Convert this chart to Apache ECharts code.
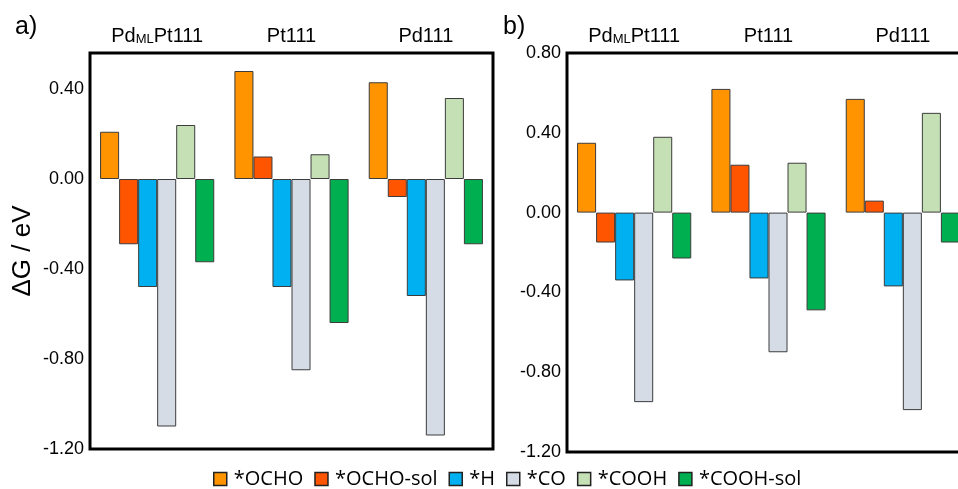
<!DOCTYPE html>
<html>
<head>
<meta charset="utf-8">
<script src="https://cdn.jsdelivr.net/npm/echarts@6/dist/echarts.min.js"></script>
<style>
  html, body { margin: 0; background: #fff; }
  #chart { width: 958px; height: 489px; }
</style>
</head>
<body>
<div id="chart"></div>
<script>
  var categories = ['PdMLPt111', 'Pt111', 'Pd111'];
  var seriesNames = ['*OCHO', '*OCHO-sol', '*H', '*CO', '*COOH', '*COOH-sol'];
  var yTicks = [-1.2, -0.8, -0.4, 0, 0.4, 0.8];

  // panel a)
  var ochoA = [0.21, 0.48, 0.43];
  var ochoSolA = [-0.29, 0.10, -0.08];
  var hA = [-0.48, -0.48, -0.52];
  var coA = [-1.10, -0.85, -1.14];
  var coohA = [0.24, 0.11, 0.36];
  var coohSolA = [-0.37, -0.64, -0.29];

  // panel b)
  var ochoB = [0.35, 0.62, 0.57];
  var ochoSolB = [-0.15, 0.24, 0.06];
  var hB = [-0.34, -0.33, -0.37];
  var coB = [-0.95, -0.70, -0.99];
  var coohB = [0.38, 0.25, 0.50];
  var coohSolB = [-0.23, -0.49, -0.15];

  var colors = ['#ff9300', '#ff5500', '#00b0f0', '#d6dce5', '#c5e0b4', '#00b050'];
  var panels = [
    [ochoA, ochoSolA, hA, coA, coohA, coohSolA],
    [ochoB, ochoSolB, hB, coB, coohB, coohSolB]
  ];

  var labelFont = 'Liberation Sans';

  function catLabel(value) {
    return '{n|' + value.replace('ML', '}{sub|ML}{n|') + '}';
  }

  function xAxis(idx) {
    return {
      type: 'category',
      gridIndex: idx,
      position: 'top',
      data: categories,
      axisLine: { show: false },
      axisTick: { show: false },
      axisLabel: {
        interval: 0,
        margin: 7,
        formatter: catLabel,
        rich: {
          n: { fontFamily: labelFont, fontSize: 20, lineHeight: 22, color: '#000', verticalAlign: 'bottom' },
          sub: { fontFamily: labelFont, fontSize: 13, lineHeight: 15, color: '#000', verticalAlign: 'bottom' }
        }
      }
    };
  }

  function yAxis(idx, max) {
    return {
      type: 'value',
      gridIndex: idx,
      min: yTicks[0],
      max: max,
      interval: 0.4,
      axisLine: { show: false },
      axisTick: { show: false },
      splitLine: { show: false },
      axisLabel: {
        margin: 6,
        showMaxLabel: max === yTicks[yTicks.length - 1],
        fontFamily: labelFont,
        fontSize: 18,
        color: '#000',
        formatter: function(v) { return v.toFixed(2); }
      }
    };
  }

  var series = [];
  panels.forEach(function(panel, p) {
    panel.forEach(function(values, k) {
      series.push({
        type: 'bar',
        name: seriesNames[k],
        xAxisIndex: p,
        yAxisIndex: p,
        data: values,
        barGap: '0%',
        barCategoryGap: '15%',
        itemStyle: { color: colors[k], borderColor: '#3c3c3c', borderWidth: 1 }
      });
    });
  });

  var yA = yAxis(0, 0.56);
  yA.name = 'ΔG / eV';
  yA.nameLocation = 'middle';
  yA.nameGap = 54;
  yA.nameTextStyle = { fontFamily: labelFont, fontSize: 26, color: '#000' };

  var option = {
    animation: false,
    backgroundColor: '#fff',
    graphic: [
      { type: 'text', left: 15, top: 15, style: { text: 'a)', font: '25px "Liberation Sans"', fill: '#000' } },
      { type: 'text', left: 503, top: 15, style: { text: 'b)', font: '25px "Liberation Sans"', fill: '#000' } }
    ],
    legend: {
      data: seriesNames,
      left: 213,
      top: 469,
      padding: 0,
      icon: 'rect',
      itemWidth: 13,
      itemHeight: 13,
      itemGap: 11,
      itemStyle: { borderColor: '#222', borderWidth: 1.5 },
      textStyle: { fontFamily: 'Open Sans', fontSize: 20, color: '#000', padding: [0, 0, 0, 2] }
    },
    grid: [
      { left: 90, width: 403, top: 53, bottom: 40, outerBoundsMode: 'none', show: true, borderColor: '#000', borderWidth: 3 },
      { left: 567, width: 403, top: 53, bottom: 37, outerBoundsMode: 'none', show: true, borderColor: '#000', borderWidth: 3 }
    ],
    xAxis: [xAxis(0), xAxis(1)],
    yAxis: [yA, yAxis(1, 0.8)],
    series: series
  };

  var chart = echarts.init(document.getElementById('chart'));
  chart.setOption(option);
</script>
</body>
</html>
